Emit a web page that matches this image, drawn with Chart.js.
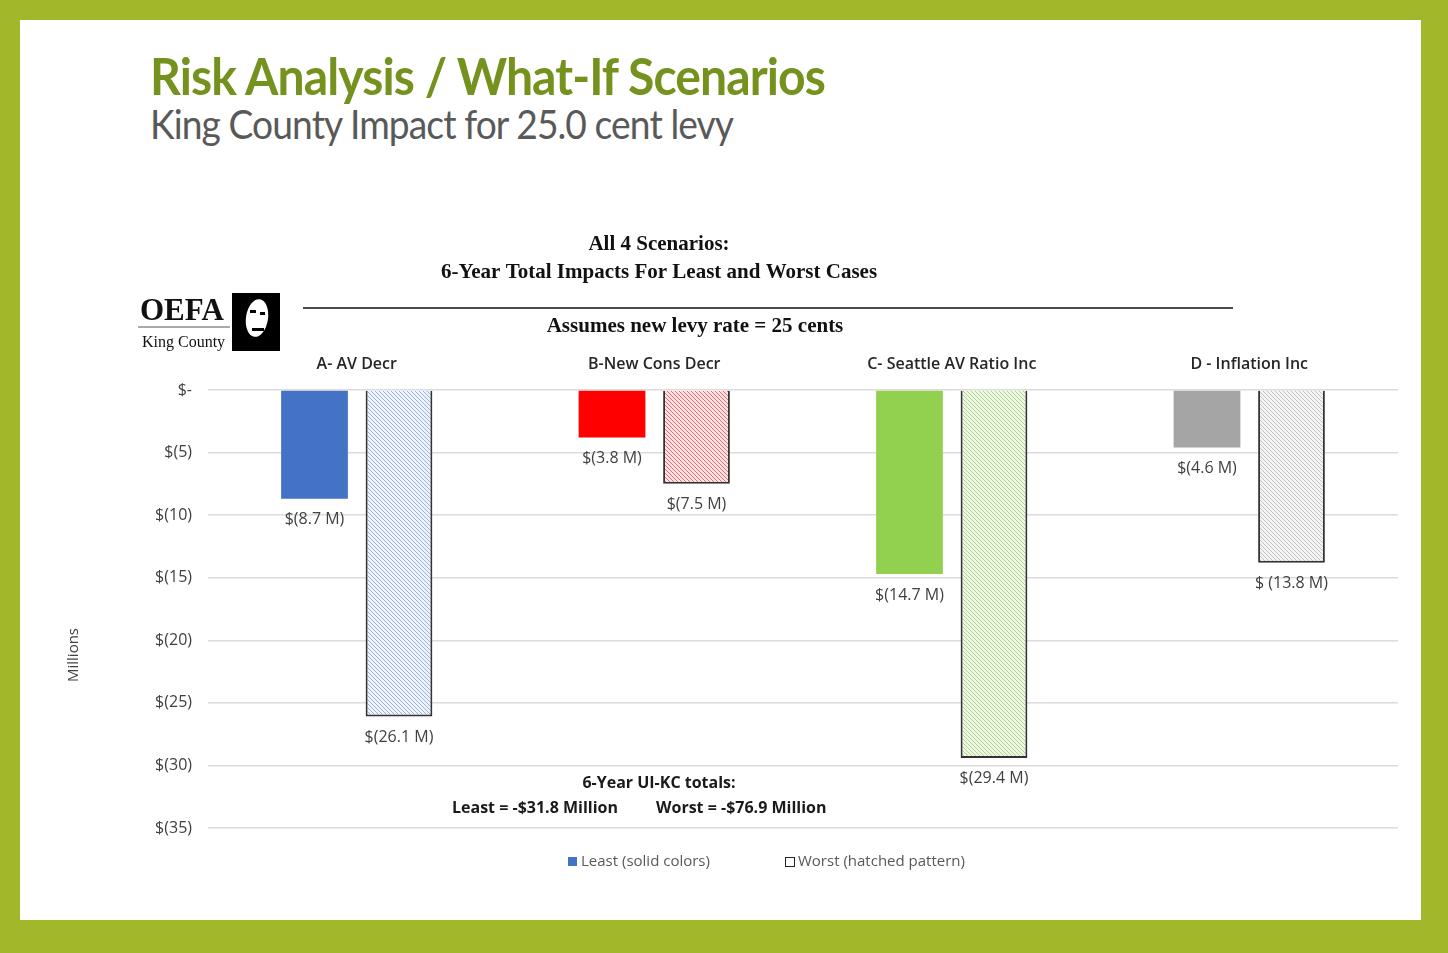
<!DOCTYPE html>
<html>
<head>
<meta charset="utf-8">
<script src="https://cdn.jsdelivr.net/npm/chart.js@4.4.1/dist/chart.umd.min.js"></script>
<style>
  html, body { margin: 0; padding: 0; }
  body { width: 1448px; height: 953px; background: #a2b72a; position: relative; overflow: hidden; }
  #panel { position: absolute; left: 20px; top: 20px; width: 1401px; height: 900px; background: #fff; }
  #title { position: absolute; left: 150px; top: 44px; font-family: Lato, sans-serif; font-weight: 700; font-size: 52px; color: #76921e; white-space: nowrap; letter-spacing: -1px; transform: scaleX(0.925); transform-origin: left top; }
  #subtitle { position: absolute; left: 150px; top: 100px; font-family: Lato, sans-serif; font-size: 40px; color: #595959; white-space: nowrap; letter-spacing: -1px; transform: scaleX(0.93); transform-origin: left top; }
  #chart { position: absolute; left: 0; top: 0; }
</style>
</head>
<body>
<div id="panel"></div>
<div id="title">Risk Analysis / What-If Scenarios</div>
<div id="subtitle">King County Impact for 25.0 cent levy</div>
<canvas id="chart" width="1448" height="953"></canvas>
<script>
// scenario data (millions)
const categories = ['A- AV Decr', 'B-New Cons Decr', 'C- Seattle AV Ratio Inc', 'D - Inflation Inc'];
const leastValues = [-8.7, -3.8, -14.7, -4.6];
const worstValues = [-26.1, -7.5, -29.4, -13.8];
const leastLabels = ['$(8.7 M)', '$(3.8 M)', '$(14.7 M)', '$(4.6 M)'];
const worstLabels = ['$(26.1 M)', '$(7.5 M)', '$(29.4 M)', '$ (13.8 M)'];
const leastColors = ['#4472c4', '#ff0000', '#92d050', '#a5a5a5'];
const hatchBg = ['#eef2fa', '#fde3e3', '#eef7e4', '#f4f4f4'];
const hatchLine = ['#9cb2d8', '#e66a6a', '#b2d58d', '#c2c2c2'];

function hatch(bg, line) {
    const c = document.createElement('canvas'); c.width = 4; c.height = 4;
    const g = c.getContext('2d');
    g.fillStyle = bg; g.fillRect(0, 0, 4, 4);
    g.strokeStyle = line; g.lineWidth = 1;
    g.beginPath();
    g.moveTo(-1, -1); g.lineTo(5, 5);
    g.moveTo(-1, 3); g.lineTo(1, 5);
    g.moveTo(3, -1); g.lineTo(5, 1);
    g.stroke();
    return document.getElementById('chart').getContext('2d').createPattern(c, 'repeat');
}

const labelPlugin = {
    id: 'extras',
    afterDraw(chart) {
        const ctx = chart.ctx;
        ctx.save();
        // value labels under each bar
        ctx.font = '16px "Open Sans", sans-serif';
        ctx.fillStyle = '#404040';
        ctx.textAlign = 'center'; ctx.textBaseline = 'middle';
        const lbls = [leastLabels, worstLabels];
        chart.data.datasets.forEach((ds, di) => {
            chart.getDatasetMeta(di).data.forEach((bar, i) => {
                ctx.fillText(lbls[di][i], bar.x, bar.y + 21);
            });
        });

        // chart title block
        ctx.fillStyle = '#111';
        ctx.font = 'bold 21px "Liberation Serif", serif';
        ctx.fillText('All 4 Scenarios:', 659, 245);
        ctx.fillText('6-Year Total Impacts For Least and Worst Cases', 659, 273);
        ctx.fillText('Assumes new levy rate = 25 cents', 695, 327);
        ctx.strokeStyle = '#111'; ctx.lineWidth = 1.5;
        ctx.beginPath(); ctx.moveTo(303, 308); ctx.lineTo(1233, 308); ctx.stroke();

        // totals note
        ctx.font = 'bold 16px "Open Sans", sans-serif';
        ctx.fillStyle = '#1a1a1a';
        ctx.fillText('6-Year UI-KC totals:', 659, 783);
        ctx.textAlign = 'left';
        ctx.fillText('Least = -$31.8 Million', 452, 808);
        ctx.fillText('Worst = -$76.9 Million', 656, 808);

        // axis title
        ctx.save();
        ctx.translate(74, 655); ctx.rotate(-Math.PI / 2);
        ctx.textAlign = 'center';
        ctx.font = '15px "Open Sans", sans-serif'; ctx.fillStyle = '#404040';
        ctx.fillText('Millions', 0, 0);
        ctx.restore();

        // legend
        ctx.font = '15px "Open Sans", sans-serif';
        ctx.fillStyle = leastColors[0]; ctx.fillRect(568, 857, 9, 9);
        ctx.fillStyle = '#595959'; ctx.fillText('Least (solid colors)', 581, 862);
        ctx.fillStyle = '#fff'; ctx.fillRect(785, 857, 9, 9);
        ctx.strokeStyle = '#222'; ctx.lineWidth = 1; ctx.strokeRect(785.5, 857.5, 9, 9);
        ctx.fillStyle = '#595959'; ctx.fillText('Worst (hatched pattern)', 798, 862);

        // logo
        ctx.fillStyle = '#111';
        ctx.font = 'bold 31px "Liberation Serif", serif';
        ctx.textBaseline = 'alphabetic';
        ctx.fillText('OEFA', 140, 320);
        ctx.strokeStyle = '#555'; ctx.beginPath(); ctx.moveTo(138, 327); ctx.lineTo(230, 327); ctx.stroke();
        ctx.font = '16px "Liberation Serif", serif';
        ctx.fillText('King County', 142, 347);
        ctx.fillStyle = '#000'; ctx.fillRect(232, 293, 48, 58);
        ctx.fillStyle = '#fff';
        ctx.beginPath(); ctx.ellipse(257, 318, 11, 19, 0.15, 0, Math.PI * 2); ctx.fill();
        ctx.fillStyle = '#000';
        ctx.fillRect(250, 310, 6, 3); ctx.fillRect(260, 312, 5, 3);
        ctx.fillRect(252, 328, 12, 3);
        ctx.fillRect(235, 296, 8, 55);
        ctx.restore();
    }
};

new Chart(document.getElementById('chart'), {
    type: 'bar',
    data: {
        labels: categories,
        datasets: [
            { label: 'Least (solid colors)', data: leastValues, backgroundColor: leastColors, borderWidth: 0 },
            { label: 'Worst (hatched pattern)', data: worstValues,
              backgroundColor: hatchBg.map((b, i) => hatch(b, hatchLine[i])),
              borderColor: '#333', borderWidth: 2, borderSkipped: 'start' }
        ]
    },
    options: {
        responsive: false,
        animation: false,
        categoryPercentage: 0.568,
        barPercentage: 0.79,
        layout: { padding: { left: 140, right: 50, top: 340, bottom: 125 } },
        plugins: { legend: { display: false }, tooltip: { enabled: false } },
        scales: {
            x: {
                position: 'top',
                grid: { display: false }, border: { display: false },
                afterFit: s => { s.height = 50; },
                ticks: { padding: 8, color: '#262626', font: { family: '"Open Sans", sans-serif', size: 16, weight: '600' } }
            },
            y: {
                min: -35, max: 0,
                afterFit: s => { s.width = 68; },
                border: { display: false },
                grid: { color: '#dcdcdc', lineWidth: 1.5, drawTicks: false },
                ticks: { stepSize: 5, padding: 16, color: '#404040',
                         font: { family: '"Open Sans", sans-serif', size: 16 },
                         callback: v => v === 0 ? '$-' : '$(' + (-v) + ')' }
            }
        }
    },
    plugins: [labelPlugin]
});
</script>
</body>
</html>
